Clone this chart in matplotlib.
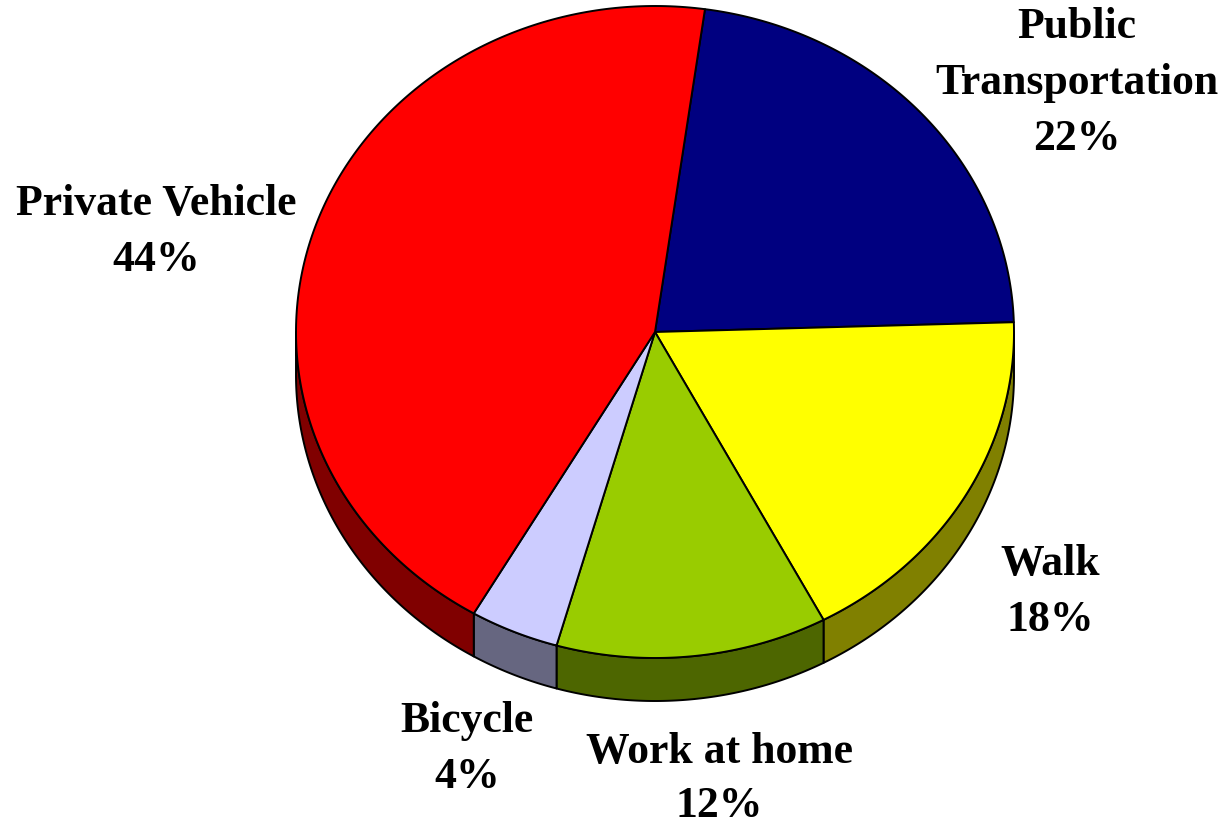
import matplotlib.pyplot as plt
import numpy as np
from matplotlib.patches import Polygon

# share of trips by mode (clockwise from the top)
modes = ["Public\nTransportation", "Walk", "Work at home", "Bicycle", "Private Vehicle"]
shares = [22.3, 17.7, 12.2, 4.0, 43.8]
top_colors = ["#000080", "#FFFF00", "#99CC00", "#CCCCFF", "#FF0000"]
side_colors = ["#000040", "#808000", "#4D6600", "#666680", "#800000"]

# pie geometry in pixels
cx, cy = 655, 333
rx, ry = 359, 326
depth = 43
start = 82.0

# label anchors: centre x, baseline of first line
label_pos = [(1077, 38), (1050, 575), (719, 763), (467, 732), (156, 215)]
line_gap = 56


def ellipse_pts(t0, t1, dy=0, n=200):
    t = np.radians(np.linspace(t0, t1, n))
    return np.column_stack([cx + rx * np.cos(t), cy + dy - ry * np.sin(t)])


fig = plt.figure(figsize=(12.23, 8.29), dpi=100)
ax = fig.add_axes([0, 0, 1, 1])
ax.set_xlim(0, 1223)
ax.set_ylim(829, 0)
ax.axis("off")

# slice boundaries, going clockwise
bounds = []
a = start
for v in shares:
    b = a - 360 * v / 100
    bounds.append((b, a))
    a = b

# side wall (front half only)
for (lo, hi), c in zip(bounds, side_colors):
    for shift in (0, 360, -360):
        l = max(lo + shift, -180)
        h = min(hi + shift, 0)
        if h <= l:
            continue
        top = ellipse_pts(h, l)
        bot = ellipse_pts(l, h, dy=depth)
        ax.add_patch(Polygon(np.vstack([top, bot]), closed=True, facecolor=c,
                             edgecolor="black", linewidth=1.4, joinstyle="round"))

# top face
for (lo, hi), c in zip(bounds, top_colors):
    arc = ellipse_pts(hi, lo)
    pts = np.vstack([[cx, cy], arc])
    ax.add_patch(Polygon(pts, closed=True, facecolor=c, edgecolor="black",
                         linewidth=1.4, joinstyle="round"))

# labels
for name, v, (x, y) in zip(modes, shares, label_pos):
    lines = name.split("\n") + [f"{v:.0f}%"]
    for i, s in enumerate(lines):
        gap = 54 if y > 750 else line_gap
        ax.text(x, y + i * gap, s, ha="center", va="baseline",
                fontsize=31.5, fontweight="bold", family="Liberation Serif")

fig.savefig("out.png", dpi=100)
